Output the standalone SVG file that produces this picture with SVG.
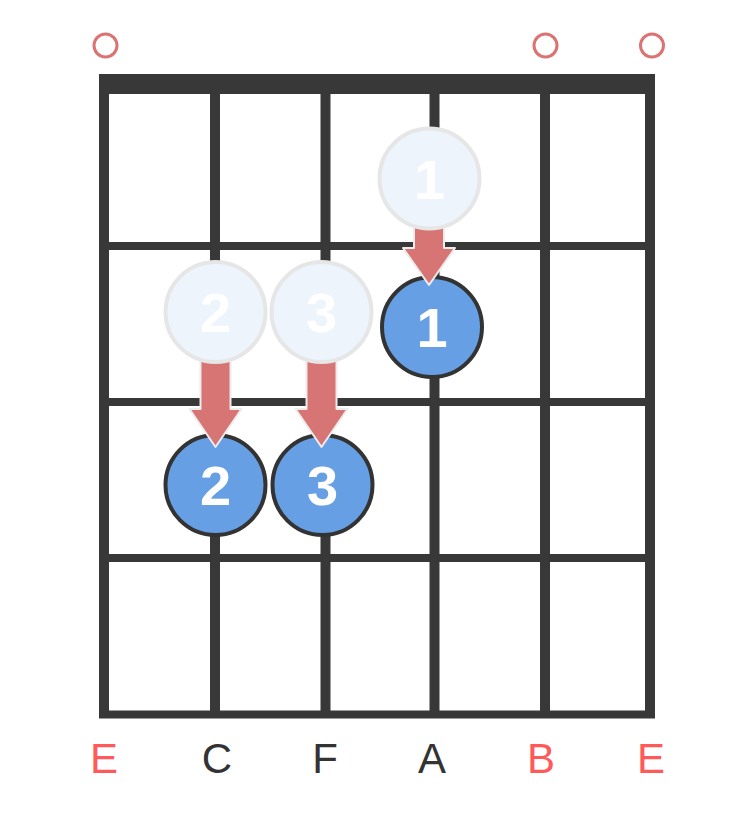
<svg xmlns="http://www.w3.org/2000/svg" width="750" height="813" viewBox="0 0 750 813">
<style>
.str{stroke:#383838;stroke-width:10;fill:none}
.fret{stroke:#383838;stroke-width:8;fill:none}
.open{fill:none;stroke:#dc7373;stroke-width:3}
.finger{fill:#669fe3;stroke:#333333;stroke-width:4}
.ghost{fill:#edf4fc;stroke:#e6e6e6;stroke-width:4}
.num{fill:#ffffff;font-family:"Liberation Sans",Arial,sans-serif;font-weight:bold;font-size:56px;text-anchor:middle}
.arrow{fill:#d77474;stroke:#ececec;stroke-width:2;stroke-linejoin:round}
.lab{font-family:"Liberation Sans",Arial,sans-serif;font-size:42px;text-anchor:middle}
</style>
<rect width="750" height="813" fill="#ffffff"/>
<g id="fretboard">
<line class="str" x1="104" y1="84" x2="104" y2="718"/>
<line class="str" x1="215" y1="84" x2="215" y2="718"/>
<line class="str" x1="325.5" y1="84" x2="325.5" y2="718"/>
<line class="str" x1="434.5" y1="84" x2="434.5" y2="718"/>
<line class="str" x1="545" y1="84" x2="545" y2="718"/>
<line class="str" x1="650" y1="84" x2="650" y2="718"/>
<line class="fret" x1="99" y1="246" x2="655" y2="246"/>
<line class="fret" x1="99" y1="402" x2="655" y2="402"/>
<line class="fret" x1="99" y1="558" x2="655" y2="558"/>
<line class="fret" x1="99" y1="714.5" x2="655" y2="714.5"/>
<rect id="nut" x="99" y="74" width="556" height="20" fill="#383838"/>
</g>
<g id="open-strings">
<circle class="open" cx="105.5" cy="45.5" r="11.5"/>
<circle class="open" cx="545.5" cy="45.5" r="11.5"/>
<circle class="open" cx="652" cy="45.5" r="11.5"/>
</g>
<g id="finger-1">
<circle class="finger" cx="432" cy="327" r="50"/>
<text class="num" x="432" y="347">1</text>
</g>
<g id="finger-2">
<circle class="finger" cx="215.5" cy="485" r="50"/>
<text class="num" x="215.5" y="505">2</text>
</g>
<g id="finger-3">
<circle class="finger" cx="322.5" cy="485" r="50"/>
<text class="num" x="322.5" y="505">3</text>
</g>
<g id="connectors">
<path class="arrow" d="M414,215 H444 V248 H455 L429,285 L403,248 H414 Z"/>
<path class="arrow" d="M200.5,345 H230.5 V409 H241.5 L215.5,447 L189.5,409 H200.5 Z"/>
<path class="arrow" d="M306.5,345 H336.5 V409 H347.5 L321.5,447 L295.5,409 H306.5 Z"/>
</g>
<g id="ghost-1">
<circle class="ghost" cx="429.5" cy="178.5" r="50"/>
<text class="num" x="429.5" y="198.5">1</text>
</g>
<g id="ghost-2">
<circle class="ghost" cx="215.5" cy="312" r="50"/>
<text class="num" x="215.5" y="332">2</text>
</g>
<g id="ghost-3">
<circle class="ghost" cx="321.5" cy="312" r="50"/>
<text class="num" x="321.5" y="332">3</text>
</g>
<g id="labels">
<text class="lab" x="104" y="773" fill="#ff5a5a">E</text>
<text class="lab" x="217" y="773" fill="#333333">C</text>
<text class="lab" x="325" y="773" fill="#333333">F</text>
<text class="lab" x="432" y="773" fill="#333333">A</text>
<text class="lab" x="541" y="773" fill="#ff5a5a">B</text>
<text class="lab" x="651" y="773" fill="#ff5a5a">E</text>
</g>
</svg>
